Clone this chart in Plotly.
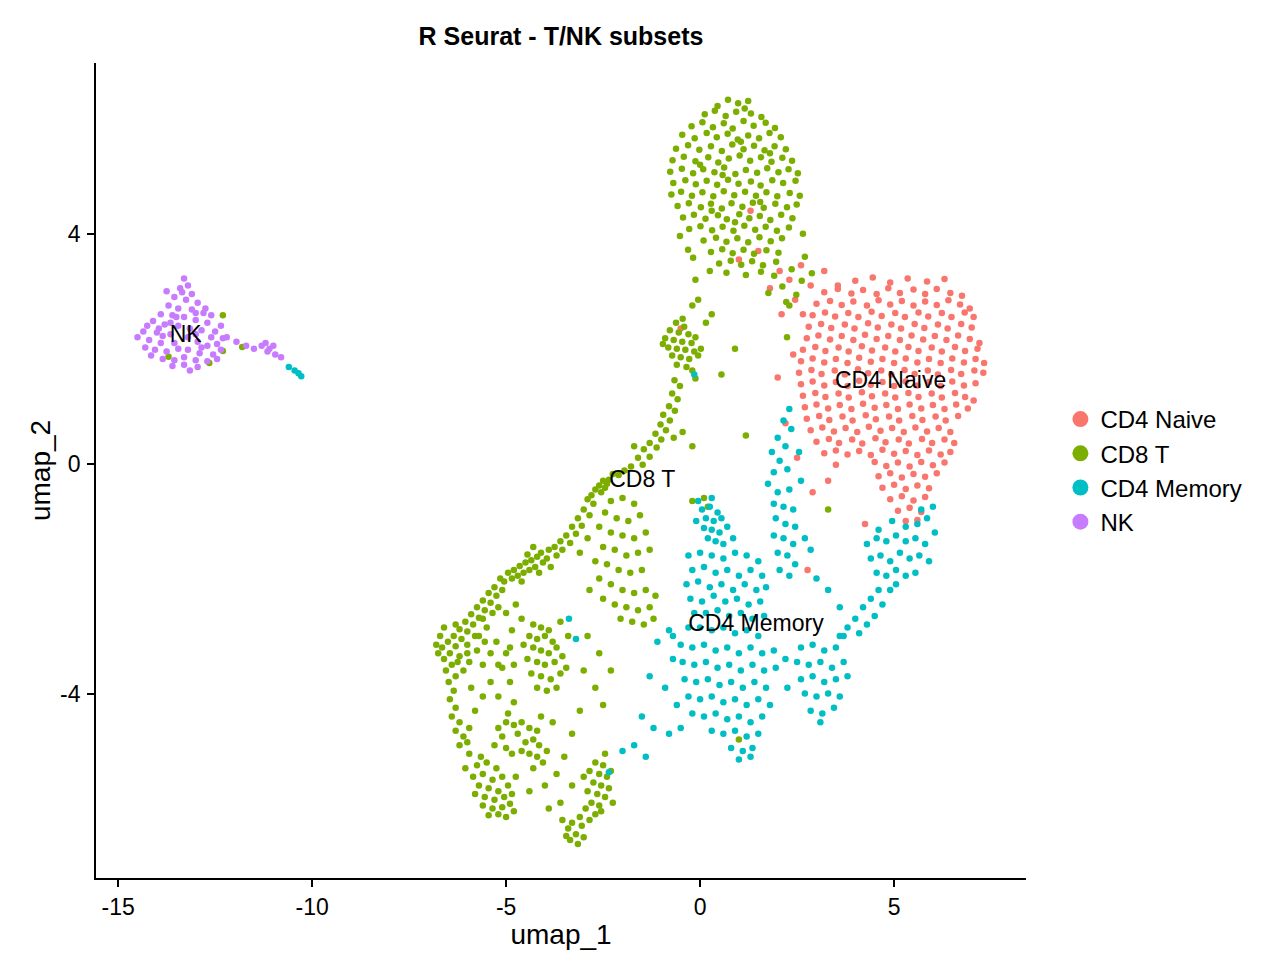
import plotly.graph_objects as go

# cluster coordinates (umap_1, umap_2)
nk_pts = [
    (-13.3, 3.22), (-13.2, 3.1), (-13.4, 3.05), (-13.1, 2.95), (-13.55, 2.9), (-13.25, 2.85),
    (-12.95, 2.8), (-13.7, 2.75), (-13.45, 2.7), (-13.1, 2.68), (-12.8, 2.62), (-13.9, 2.6),
    (-13.6, 2.58), (-13.3, 2.55), (-13.0, 2.5), (-12.7, 2.45), (-14.1, 2.48), (-13.8, 2.42),
    (-13.45, 2.4), (-13.15, 2.35), (-12.85, 2.32), (-12.5, 2.3), (-14.35, 2.3), (-14.0, 2.28),
    (-13.65, 2.25), (-12.6, 2.2), (-12.3, 2.18), (-14.5, 2.2), (-14.2, 2.15), (-13.9, 2.1),
    (-12.95, 2.12), (-12.7, 2.05), (-12.45, 2.08), (-12.2, 2.2), (-14.3, 2.02), (-14.05, 1.98),
    (-13.75, 1.95), (-13.45, 2.0), (-13.2, 1.98), (-12.9, 1.92), (-12.55, 1.9), (-14.15, 1.88),
    (-13.85, 1.82), (-13.55, 1.8), (-13.3, 1.85), (-13.0, 1.8), (-12.7, 1.78), (-12.45, 1.82),
    (-13.6, 1.7), (-13.3, 1.72), (-12.95, 1.68), (-13.5, 2.55), (-13.75, 3.0), (-12.6, 2.58),
    (-13.95, 2.35), (-12.35, 2.4), (-13.2, 2.2), (-13.0, 2.25), (-13.55, 2.1), (-12.75, 2.7),
    (-13.35, 2.98), (-13.0, 2.62), (-13.85, 2.22), (-12.85, 2.02), (-13.65, 2.45), (-14.25, 2.4),
    (-13.15, 1.62), (-12.35, 1.98),
    (-11.95, 2.12), (-11.7, 2.05), (-11.5, 2.0), (-11.3, 2.05), (-11.2, 2.1), (-11.1, 2.0),
    (-11.0, 2.05), (-11.15, 1.95), (-10.95, 1.9), (-10.8, 1.85),
]

cd8_pts = [
    # upper blob
    (0.72, 6.33), (0.98, 6.27), (1.24, 6.31), (0.45, 6.22),
    (0.12, 6.08), (0.38, 6.14), (0.66, 6.05), (0.93, 6.12), (1.31, 6.09), (1.58, 6.03), (1.15, 6.18),
    (-0.22, 5.87), (0.06, 5.94), (0.33, 5.85), (0.61, 5.92), (0.84, 5.83), (1.12, 5.96), (1.38, 5.88),
    (1.69, 5.93), (1.93, 5.84),
    (-0.46, 5.72), (-0.14, 5.66), (0.17, 5.75), (0.43, 5.68), (0.71, 5.74), (0.97, 5.64), (1.24, 5.71),
    (1.52, 5.66), (1.79, 5.75), (2.08, 5.68),
    (-0.62, 5.48), (-0.31, 5.54), (-0.02, 5.46), (0.28, 5.52), (0.56, 5.44), (0.83, 5.55), (1.12, 5.47),
    (1.39, 5.53), (1.66, 5.45), (1.92, 5.52), (2.21, 5.47),
    (-0.71, 5.28), (-0.42, 5.34), (-0.12, 5.26), (0.21, 5.33), (0.47, 5.24), (0.74, 5.31), (1.02, 5.36),
    (1.29, 5.27), (1.57, 5.33), (1.84, 5.25), (2.12, 5.32), (2.37, 5.27),
    (-0.77, 5.08), (-0.47, 5.13), (-0.18, 5.05), (0.08, 5.12), (0.37, 5.07), (0.62, 5.15), (0.91, 5.04),
    (1.18, 5.11), (1.47, 5.06), (1.73, 5.14), (2.02, 5.07), (2.28, 5.12), (2.52, 5.05),
    (-0.69, 4.88), (-0.38, 4.93), (-0.11, 4.86), (0.17, 4.92), (0.44, 4.85), (0.72, 4.94), (0.99, 4.87),
    (1.31, 4.91), (1.56, 4.84), (1.86, 4.93), (2.14, 4.88), (2.46, 4.92),
    (-0.74, 4.68), (-0.49, 4.73), (-0.21, 4.66), (0.06, 4.72), (0.34, 4.65), (0.61, 4.74), (0.88, 4.67),
    (1.16, 4.73), (1.44, 4.66), (1.71, 4.72), (1.99, 4.65), (2.31, 4.71), (2.57, 4.66),
    (-0.58, 4.48), (-0.29, 4.53), (0.02, 4.46), (0.28, 4.52), (0.56, 4.44), (0.81, 4.53), (1.09, 4.47),
    (1.36, 4.54), (1.64, 4.45), (1.94, 4.52), (2.24, 4.46), (2.49, 4.51),
    (-0.44, 4.28), (-0.16, 4.33), (0.14, 4.26), (0.46, 4.32), (0.69, 4.25), (1.01, 4.34), (1.27, 4.27),
    (1.54, 4.31), (1.81, 4.24), (2.09, 4.33), (2.38, 4.27),
    (-0.28, 4.08), (0.01, 4.13), (0.31, 4.06), (0.58, 4.12), (0.86, 4.05), (1.14, 4.14), (1.42, 4.07),
    (1.69, 4.12), (1.98, 4.05), (2.29, 4.11),
    (0.09, 3.88), (0.41, 3.93), (0.68, 3.86), (0.96, 3.92), (1.24, 3.85), (1.53, 3.94), (1.82, 3.87), (2.11, 3.92),
    (0.28, 3.68), (0.57, 3.73), (0.84, 3.66), (1.12, 3.72), (1.39, 3.65), (1.71, 3.71), (2.02, 3.67),
    (0.49, 3.48), (0.79, 3.53), (1.06, 3.46), (1.34, 3.52), (1.62, 3.45), (1.96, 3.51),
    (0.68, 3.32), (1.18, 3.28), (1.57, 3.34), (1.91, 3.27),
    (0.58, 5.02), (1.05, 5.6), (0.3, 4.4), (1.55, 4.55), (0.0, 5.2), (1.8, 5.4), (0.9, 4.2),
    (-0.31, 3.72), (-0.52, 3.96), (2.36, 3.38), (2.12, 3.08), (2.48, 2.94), (1.76, 2.97), (2.88, 3.31),
    (2.22, 2.81), (2.62, 3.18), (-0.18, 3.58), (0.25, 3.35), (-0.12, 3.2), (2.7, 3.6), (2.65, 4.0),
    (-0.05, 2.85), (2.3, 2.75),
    # small knot
    (-0.62, 2.45), (-0.41, 2.38), (-0.78, 2.32), (-0.55, 2.28), (-0.3, 2.25), (-0.9, 2.18), (-0.68, 2.15),
    (-0.46, 2.12), (-0.22, 2.1), (-0.82, 2.02), (-0.6, 2.0), (-0.38, 1.98), (-0.15, 1.95), (-0.72, 1.88),
    (-0.5, 1.85), (-0.28, 1.82), (-0.05, 1.88), (-0.6, 1.72), (-0.35, 1.68), (-0.12, 2.2), (-0.96, 2.08),
    (0.02, 2.0), (-0.2, 1.62), (-0.45, 2.52),
    (-0.2, 2.75), (0.3, 2.6), (0.15, 2.45), (0.55, 1.55), (0.9, 2.0), (-0.12, 1.48), (2.24, 2.2), (1.18, 0.49),
    # strand
    (-0.66, 1.45), (-0.52, 1.35), (-0.72, 1.22), (-0.58, 1.12), (-0.8, 1.0), (-0.65, 0.92), (-0.95, 0.85),
    (-0.78, 0.75), (-1.02, 0.68), (-0.88, 0.58), (-1.15, 0.52), (-1.0, 0.42), (-1.3, 0.36), (-1.12, 0.28),
    (-1.45, 0.25), (-1.3, 0.12), (-1.6, 0.1), (-1.48, -0.02), (-1.78, -0.05), (-1.95, -0.12), (-2.1, -0.2),
    (-2.25, -0.18), (-2.35, -0.28), (-2.5, -0.3), (-2.6, -0.38), (-2.45, -0.42), (-2.7, -0.45), (-2.55, -0.5),
    (-2.8, -0.55), (-2.4, -0.35), (-0.45, 0.55), (-0.2, 0.3), (-0.68, 0.45), (-1.7, 0.3),
    # diagonal band
    (-2.9, -0.62), (-2.75, -0.7), (-3.0, -0.8), (-2.85, -0.9), (-3.15, -0.95), (-3.05, -1.08), (-3.3, -1.1),
    (-3.2, -1.22), (-3.45, -1.25), (-3.35, -1.38), (-3.6, -1.35), (-3.55, -1.5), (-3.75, -1.45), (-3.7, -1.6),
    (-3.9, -1.5), (-3.95, -1.65), (-4.1, -1.55), (-4.05, -1.72), (-4.2, -1.62), (-4.25, -1.8), (-4.35, -1.68),
    (-4.4, -1.85), (-4.5, -1.72), (-4.55, -1.9), (-4.65, -1.78), (-4.7, -1.95), (-4.8, -1.85), (-4.45, -1.58),
    (-4.15, -1.9), (-4.3, -1.45), (-3.85, -1.8), (-4.6, -2.05), (-4.85, -2.0), (-4.95, -1.9), (-5.05, -2.05),
    (-5.15, -2.0), (-5.1, -2.2), (-5.3, -2.15), (-5.25, -2.3), (-5.45, -2.25), (-5.4, -2.42), (-5.6, -2.38),
    (-5.55, -2.55), (-5.75, -2.5), (-5.7, -2.68), (-5.9, -2.62), (-5.85, -2.8), (-6.05, -2.75), (-6.0, -2.92),
    (-6.2, -2.88), (-6.15, -3.05), (-6.35, -3.0), (-6.3, -3.18), (-6.5, -3.1), (-6.45, -3.3), (-6.65, -3.2),
    (-6.6, -3.4), (-6.75, -3.3), (-6.4, -3.5), (-6.55, -3.6), (-6.2, -3.35), (-6.0, -3.15), (-5.8, -3.0),
    (-6.3, -3.7), (-6.1, -3.6), (-5.95, -3.45),
    (-6.7, -3.0), (-6.6, -2.85), (-6.8, -3.15), (-6.3, -2.8), (-5.6, -2.7), (-5.35, -2.6), (-5.5, -2.85),
    (-5.7, -3.0), (-5.2, -2.5), (-6.0, -3.3), (-5.75, -3.25), (-5.55, -3.1), (-6.25, -3.45), (-6.48, -3.8),
    (-6.35, -3.95), (-6.45, -4.1), (-6.3, -4.25), (-6.4, -4.4), (-6.2, -4.5), (-6.3, -4.65), (-6.1, -4.75),
    (-6.2, -4.9), (-6.0, -4.85), (-5.95, -4.6), (-5.8, -4.3), (-5.6, -4.05), (-5.4, -3.8), (-5.9, -3.9),
    (-5.2, -3.5), (-5.0, -3.3),
    # ring knot
    (-5.2, -4.6), (-5.0, -4.5), (-4.8, -4.55), (-4.6, -4.5), (-4.4, -4.6), (-4.2, -4.65), (-5.1, -4.75),
    (-4.3, -4.8), (-4.15, -4.9), (-5.0, -4.95), (-4.85, -5.05), (-4.6, -5.0), (-4.4, -5.05), (-4.2, -5.1),
    (-4.05, -5.2), (-5.3, -4.9), (-4.7, -4.7), (-4.5, -4.85), (-4.95, -4.35), (-4.1, -4.4), (-3.95, -5.0),
    (-4.3, -5.3),
    # lower left blob
    (-5.75, -5.25), (-5.5, -5.2), (-5.25, -5.3), (-5.85, -5.45), (-5.6, -5.4), (-5.35, -5.5), (-5.1, -5.45),
    (-5.7, -5.6), (-5.45, -5.65), (-5.2, -5.7), (-4.95, -5.6), (-5.8, -5.75), (-5.55, -5.8), (-5.3, -5.85),
    (-5.05, -5.8), (-4.85, -5.75), (-5.6, -5.95), (-5.35, -6.0), (-5.1, -5.98), (-4.9, -5.92), (-5.45, -6.12),
    (-5.2, -6.1), (-4.8, -6.05), (-5.65, -5.1), (-5.95, -5.05), (-6.05, -5.3), (-4.75, -5.45), (-5.0, -6.15),
    # lower right blob
    (-2.7, -5.2), (-2.5, -5.25), (-2.85, -5.35), (-2.6, -5.4), (-2.4, -5.45), (-2.75, -5.55), (-2.55, -5.6),
    (-2.35, -5.65), (-2.9, -5.7), (-2.65, -5.75), (-2.45, -5.8), (-2.8, -5.9), (-2.6, -5.95), (-2.95, -6.0),
    (-2.7, -6.1), (-3.1, -6.15), (-2.85, -6.2), (-3.3, -6.25), (-3.05, -6.3), (-3.4, -6.35), (-3.2, -6.45),
    (-3.0, -6.5), (-3.35, -6.55), (-3.15, -6.62), (-3.45, -6.48), (-2.55, -6.05), (-2.3, -5.35),
    (-2.45, -5.05), (-3.0, -5.45), (-2.25, -5.9), (-3.55, -6.2), (-3.6, -5.9), (-3.3, -5.6),
    (-4.0, -5.6), (-3.7, -5.4), (-3.9, -6.0), (-4.4, -5.7), (-3.5, -5.1),
    # inner knot
    (-4.3, -2.8), (-4.1, -2.85), (-3.9, -2.9), (-4.4, -3.0), (-4.2, -3.05), (-4.0, -3.0), (-3.8, -3.1),
    (-4.3, -3.2), (-4.1, -3.25), (-3.9, -3.3), (-3.7, -3.2), (-4.45, -3.4), (-4.2, -3.45), (-4.0, -3.5),
    (-3.75, -3.45), (-3.55, -3.35), (-4.35, -3.65), (-4.1, -3.7), (-3.85, -3.75), (-3.6, -3.65),
    (-3.45, -3.55), (-4.2, -3.9), (-3.95, -3.95), (-3.7, -3.9), (-4.55, -3.15), (-3.4, -3.0), (-4.6, -2.7),
    (-3.6, -2.75),
    (-5.0, -2.6), (-4.85, -2.9), (-5.25, -3.1), (-4.9, -3.2), (-5.1, -3.55), (-4.8, -3.5), (-5.4, -3.3),
    (-4.75, -2.45), (-5.6, -3.5), (-4.9, -3.8), (-5.2, -4.05), (-4.8, -4.15),
    # loose right part
    (-2.3, -0.65), (-2.0, -0.6), (-1.7, -0.7), (-2.45, -0.85), (-2.15, -0.95), (-1.85, -1.0), (-1.55, -0.9),
    (-2.6, -1.1), (-2.3, -1.2), (-2.0, -1.25), (-1.7, -1.3), (-1.4, -1.2), (-2.5, -1.45), (-2.2, -1.5),
    (-1.9, -1.6), (-1.6, -1.55), (-1.3, -1.5), (-2.7, -1.7), (-2.4, -1.75), (-2.1, -1.85), (-1.8, -1.9),
    (-1.5, -1.85), (-2.6, -2.0), (-2.3, -2.1), (-2.0, -2.2), (-1.7, -2.25), (-1.4, -2.2), (-1.15, -2.3),
    (-2.5, -2.35), (-2.2, -2.45), (-1.9, -2.5), (-1.6, -2.55), (-1.3, -2.5), (-2.05, -2.7), (-1.75, -2.75),
    (-1.45, -2.8), (-1.2, -2.7), (-2.9, -1.3), (-3.1, -1.55), (-2.85, -2.2),
    (-2.9, -3.0), (-2.6, -3.3), (-3.0, -3.6), (-2.7, -3.9), (-2.5, -4.2), (-3.1, -4.3), (-2.3, -3.6),
    (-3.3, -4.7), (-3.8, -4.5),
    # strays
    (-12.3, 2.58), (-12.3, 1.96), (-12.65, 1.75), (-13.7, 1.86), (-11.8, 2.03),
    (0.1, -0.6), (0.2, -0.75), (-0.2, -0.65), (1.0, -4.8), (3.3, -0.8),
]

naive_pts = [
    (4.0, 3.18), (4.45, 3.24), (4.9, 3.15), (5.35, 3.22), (5.85, 3.17), (6.3, 3.21), (3.55, 3.1),
    (3.2, 2.98), (3.55, 3.04), (3.9, 2.96), (4.2, 3.02), (4.55, 2.95), (4.85, 3.05), (5.15, 2.97),
    (5.5, 3.03), (5.8, 2.95), (6.1, 3.04), (6.45, 2.97), (6.75, 2.92),
    (3.0, 2.78), (3.35, 2.83), (3.65, 2.76), (3.95, 2.82), (4.3, 2.75), (4.6, 2.84), (4.9, 2.77),
    (5.2, 2.83), (5.5, 2.75), (5.8, 2.82), (6.1, 2.76), (6.4, 2.84), (6.7, 2.77), (6.95, 2.7),
    (2.9, 2.58), (3.22, 2.63), (3.48, 2.56), (3.82, 2.62), (4.08, 2.55), (4.42, 2.64), (4.68, 2.57),
    (5.03, 2.62), (5.28, 2.55), (5.63, 2.63), (5.88, 2.56), (6.23, 2.62), (6.48, 2.55), (6.82, 2.63),
    (7.05, 2.55),
    (2.8, 2.38), (3.12, 2.43), (3.38, 2.36), (3.73, 2.42), (3.98, 2.35), (4.33, 2.44), (4.58, 2.37),
    (4.93, 2.42), (5.18, 2.35), (5.53, 2.43), (5.78, 2.36), (6.13, 2.42), (6.38, 2.35), (6.73, 2.43),
    (7.0, 2.37),
    (2.75, 2.18), (3.05, 2.23), (3.35, 2.16), (3.65, 2.22), (3.95, 2.15), (4.25, 2.24), (4.55, 2.17),
    (4.85, 2.22), (5.15, 2.15), (5.45, 2.23), (5.75, 2.16), (6.05, 2.22), (6.35, 2.15), (6.65, 2.23),
    (6.95, 2.17), (7.2, 2.1),
    (2.65, 1.98), (2.97, 2.03), (3.23, 1.96), (3.57, 2.02), (3.83, 1.95), (4.17, 2.04), (4.43, 1.97),
    (4.77, 2.02), (5.03, 1.95), (5.37, 2.03), (5.63, 1.96), (5.97, 2.02), (6.23, 1.95), (6.57, 2.03),
    (6.83, 1.96), (7.15, 2.0),
    (2.6, 1.78), (2.9, 1.83), (3.2, 1.76), (3.5, 1.82), (3.8, 1.75), (4.1, 1.84), (4.4, 1.77),
    (4.7, 1.82), (5.0, 1.75), (5.3, 1.83), (5.6, 1.76), (5.9, 1.82), (6.2, 1.75), (6.5, 1.83),
    (6.8, 1.76), (7.1, 1.82), (7.32, 1.75),
    (2.55, 1.58), (2.87, 1.63), (3.13, 1.56), (3.47, 1.62), (3.73, 1.55), (4.07, 1.64), (4.33, 1.57),
    (4.67, 1.62), (4.93, 1.55), (5.27, 1.63), (5.53, 1.56), (5.87, 1.62), (6.13, 1.55), (6.47, 1.63),
    (6.73, 1.56), (7.07, 1.62), (7.3, 1.58),
    (2.6, 1.38), (2.9, 1.43), (3.2, 1.36), (3.5, 1.42), (3.8, 1.35), (4.1, 1.44), (4.4, 1.37),
    (4.7, 1.42), (5.0, 1.35), (5.3, 1.43), (5.6, 1.36), (5.9, 1.42), (6.2, 1.35), (6.5, 1.43),
    (6.8, 1.36), (7.1, 1.4),
    (2.65, 1.18), (2.97, 1.23), (3.23, 1.16), (3.57, 1.22), (3.83, 1.15), (4.17, 1.24), (4.43, 1.17),
    (4.77, 1.22), (5.03, 1.15), (5.37, 1.23), (5.63, 1.16), (5.97, 1.22), (6.23, 1.15), (6.57, 1.23),
    (6.83, 1.16), (7.05, 1.1),
    (2.7, 0.98), (3.0, 1.03), (3.3, 0.96), (3.6, 1.02), (3.9, 0.95), (4.2, 1.04), (4.5, 0.97),
    (4.8, 1.02), (5.1, 0.95), (5.4, 1.03), (5.7, 0.96), (6.0, 1.02), (6.3, 0.95), (6.6, 1.03), (6.9, 0.96),
    (2.75, 0.78), (3.07, 0.83), (3.33, 0.76), (3.67, 0.82), (3.93, 0.75), (4.27, 0.84), (4.53, 0.77),
    (4.87, 0.82), (5.13, 0.75), (5.47, 0.83), (5.73, 0.76), (6.07, 0.82), (6.33, 0.75), (6.65, 0.83),
    (2.85, 0.58), (3.15, 0.63), (3.45, 0.56), (3.75, 0.62), (4.05, 0.55), (4.35, 0.64), (4.65, 0.57),
    (4.95, 0.62), (5.25, 0.55), (5.55, 0.63), (5.85, 0.56), (6.15, 0.62), (6.45, 0.55),
    (3.0, 0.38), (3.32, 0.43), (3.58, 0.36), (3.92, 0.42), (4.18, 0.35), (4.52, 0.44), (4.78, 0.37),
    (5.12, 0.42), (5.38, 0.35), (5.72, 0.43), (5.98, 0.36), (6.3, 0.42), (6.55, 0.36),
    (3.2, 0.18), (3.5, 0.23), (3.8, 0.16), (4.1, 0.22), (4.4, 0.15), (4.7, 0.24), (5.0, 0.17),
    (5.3, 0.22), (5.6, 0.15), (5.9, 0.23), (6.2, 0.16), (6.45, 0.2),
    (3.5, -0.02), (4.5, 0.03), (4.8, -0.04), (5.1, 0.02), (5.4, -0.05), (5.7, 0.03), (6.0, -0.03), (6.3, 0.02),
    (4.6, -0.22), (4.9, -0.17), (5.2, -0.24), (5.5, -0.18), (5.8, -0.23), (6.1, -0.17),
    (4.7, -0.42), (5.0, -0.37), (5.3, -0.44), (5.6, -0.38), (5.9, -0.43),
    (4.9, -0.62), (5.2, -0.57), (5.5, -0.64), (5.8, -0.58),
    (5.1, -0.82), (5.4, -0.77), (5.7, -0.84), (5.3, -1.0), (5.6, -0.98),
    # loose cells between clusters
    (1.5, 3.7), (2.05, 3.35), (2.3, 3.2), (2.6, 3.45), (2.85, 3.1), (1.8, 3.05), (2.45, 2.85),
    (3.2, 3.35), (2.1, 2.6), (2.65, 2.6), (1.0, 3.55), (1.3, 4.4), (2.0, 1.5), (2.4, 1.9),
    (2.77, -1.85), (4.25, -1.05), (2.9, -0.5), (3.3, -0.3), (2.5, 0.1), (2.2, 0.7), (-0.5, 2.35),
]

memory_pts = [
    (0.05, -0.8), (0.25, -0.75), (0.45, -0.85), (0.15, -0.95), (0.35, -1.0), (0.55, -0.95), (0.1, -1.12),
    (0.3, -1.15), (0.5, -1.2), (0.7, -1.1), (0.2, -1.3), (0.4, -1.35), (0.6, -1.4), (-0.1, -1.0),
    (0.85, -1.3), (-0.05, -0.65), (0.3, -0.6),
    (-0.3, -1.6), (0.0, -1.55), (0.3, -1.6), (0.6, -1.65), (0.9, -1.55), (1.2, -1.6), (1.5, -1.7),
    (-0.2, -1.85), (0.1, -1.8), (0.4, -1.9), (0.7, -1.85), (1.0, -1.95), (1.3, -1.85), (1.6, -1.95),
    (-0.35, -2.1), (-0.05, -2.05), (0.25, -2.15), (0.55, -2.1), (0.85, -2.2), (1.15, -2.1), (1.45, -2.2),
    (1.7, -2.15), (-0.25, -2.35), (0.05, -2.4), (0.35, -2.3), (0.65, -2.4), (0.95, -2.35), (1.25, -2.45),
    (1.55, -2.4), (-0.15, -2.6), (0.15, -2.6), (0.45, -2.55), (0.75, -2.65), (1.05, -2.6), (1.35, -2.7),
    (1.65, -2.65), (-0.3, -2.85), (0.0, -2.85), (0.3, -2.9), (0.6, -2.85), (0.9, -2.95), (1.2, -2.9),
    (1.5, -3.0),
    (2.3, 0.95), (2.15, 0.75), (2.35, 0.6), (2.0, 0.45), (2.2, 0.3), (1.85, 0.2), (2.05, 0.05),
    (1.9, -0.15), (2.25, -0.1), (1.75, -0.35), (2.0, -0.5), (2.3, -0.45), (1.9, -0.7), (2.15, -0.75),
    (2.4, -0.8), (1.95, -0.95), (2.2, -1.05), (2.45, -1.1), (1.9, -1.25), (2.15, -1.3), (2.4, -1.4),
    (2.0, -1.55), (2.25, -1.6), (2.45, -1.75), (2.05, -1.85), (2.3, -1.95), (2.6, -0.3), (2.55, 0.2),
    (2.7, -1.3), (2.85, -1.5),
    (-0.5, -3.15), (-0.2, -3.2), (0.1, -3.15), (0.4, -3.25), (0.7, -3.2), (1.0, -3.3), (1.3, -3.2),
    (1.6, -3.3), (1.9, -3.25), (-0.45, -3.45), (-0.15, -3.5), (0.15, -3.45), (0.45, -3.55), (0.75, -3.5),
    (1.05, -3.6), (1.35, -3.5), (1.65, -3.6), (1.95, -3.55), (-0.4, -3.75), (-0.1, -3.8), (0.2, -3.75),
    (0.5, -3.85), (0.8, -3.8), (1.1, -3.9), (1.4, -3.8), (1.7, -3.9), (-0.3, -4.05), (0.0, -4.1),
    (0.3, -4.05), (0.6, -4.15), (0.9, -4.1), (1.2, -4.2), (1.5, -4.1), (1.8, -4.2), (-0.2, -4.35),
    (0.1, -4.4), (0.4, -4.35), (0.7, -4.45), (1.0, -4.4), (1.3, -4.5), (1.6, -4.4), (0.3, -4.65),
    (0.6, -4.7), (0.9, -4.65), (1.2, -4.75), (1.5, -4.7), (0.8, -4.95), (1.1, -5.0), (1.35, -4.95),
    (1.0, -5.15), (1.3, -5.1),
    (2.6, -3.2), (2.9, -3.15), (3.2, -3.25), (3.5, -3.2), (2.5, -3.45), (2.8, -3.5), (3.1, -3.45),
    (3.4, -3.55), (3.7, -3.45), (2.6, -3.75), (2.9, -3.7), (3.2, -3.8), (3.5, -3.75), (3.8, -3.7),
    (2.7, -4.0), (3.0, -4.05), (3.3, -4.0), (3.6, -4.05), (2.85, -4.3), (3.15, -4.35), (3.45, -4.25),
    (3.1, -4.5), (2.25, -3.9), (2.2, -3.4), (3.7, -3.0),
    (4.3, -1.4), (4.55, -1.3), (4.8, -1.35), (5.05, -1.25), (5.3, -1.35), (5.55, -1.3), (5.8, -1.4),
    (4.4, -1.65), (4.65, -1.6), (4.9, -1.7), (5.15, -1.55), (5.4, -1.65), (5.65, -1.6), (5.9, -1.7),
    (4.55, -1.9), (4.8, -1.95), (5.05, -1.85), (5.3, -1.95), (5.55, -1.9), (5.05, -2.1), (5.3, -1.1),
    (5.6, -1.05), (5.85, -0.95), (6.0, -0.75), (5.7, -0.8), (4.95, -1.0), (6.05, -1.2), (4.6, -1.15),
    (4.6, -2.2), (4.4, -2.35), (4.7, -2.45), (4.2, -2.5), (4.5, -2.65), (4.0, -2.7), (4.3, -2.8),
    (3.8, -2.85), (4.1, -2.95), (3.6, -3.0), (4.9, -2.2), (3.3, -2.2), (3.0, -2.0), (3.6, -2.5),
    (-0.8, -2.9), (-1.1, -3.1), (-0.7, -3.4), (-1.3, -3.7), (-0.9, -3.9), (-0.6, -4.2), (-1.5, -4.4),
    (-1.2, -4.6), (-0.8, -4.7), (-1.7, -4.9), (-2.0, -5.0), (-1.4, -5.1), (-0.5, -4.6), (-0.7, -3.0),
    (-3.38, -2.7), (-3.2, -3.05), (-2.35, -5.37),
    (-10.6, 1.68), (-10.45, 1.62), (-10.28, 1.52), (-10.35, 1.57), (-0.15, 1.55),
]

cluster_names = ["CD4 Naive", "CD8 T", "CD4 Memory", "NK"]
cluster_colors = ["#F8766D", "#7CAE00", "#00BFC4", "#C77CFF"]
cluster_pts = [naive_pts, cd8_pts, memory_pts, nk_pts]

label_x = [4.91, -1.49, 1.44, -13.26]
label_y = [1.42, -0.30, -2.81, 2.21]

x_ticks = [-15, -10, -5, 0, 5]
y_ticks = [-4, 0, 4]

FONT = "Liberation Sans, Arial, Helvetica, sans-serif"

fig = go.Figure()

for name, col, pts in zip(cluster_names, cluster_colors, cluster_pts):
    fig.add_trace(go.Scatter(
        x=[p[0] for p in pts], y=[p[1] for p in pts],
        mode="markers", name=name, showlegend=False,
        marker=dict(color=col, size=6.5, line=dict(width=0)),
    ))

# bigger dots for the legend only
for name, col in zip(cluster_names, cluster_colors):
    fig.add_trace(go.Scatter(
        x=[None], y=[None], mode="markers", name=name,
        marker=dict(color=col, size=17),
    ))

fig.add_trace(go.Scatter(
    x=label_x, y=label_y, mode="text", text=cluster_names,
    textfont=dict(family=FONT, size=23, color="black"),
    showlegend=False, hoverinfo="skip",
))

# the page adds ~8px of body margin, so the figure is laid out 8px up/left
fig.update_layout(
    width=1275, height=975,
    paper_bgcolor="white", plot_bgcolor="white",
    margin=dict(l=88, r=257, t=55, b=105),
    font=dict(family=FONT, color="black"),
    title=dict(text="<b>R Seurat - T/NK subsets</b>", x=553 / 1275, xanchor="center",
               y=1 - 28 / 975, yanchor="middle", font=dict(size=25)),
    legend=dict(x=1.037, y=0.5, xanchor="left", yanchor="middle",
                font=dict(size=24), itemsizing="trace", tracegroupgap=0),
)

fig.update_xaxes(
    range=[-15.57, 8.40], tickvals=x_ticks, ticktext=[str(v) for v in x_ticks],
    showgrid=False, zeroline=False, showline=True, linecolor="black", linewidth=1.8,
    ticks="outside", ticklen=7, tickwidth=1.8, tickcolor="black", automargin=False,
    tickfont=dict(size=23, color="black"),
    title=dict(text="umap_1", font=dict(size=28), standoff=6),
)
fig.update_yaxes(
    range=[-7.21, 6.97], tickvals=y_ticks, ticktext=[str(v) for v in y_ticks],
    showgrid=False, zeroline=False, showline=True, linecolor="black", linewidth=1.8,
    ticks="outside", ticklen=7, tickwidth=1.8, tickcolor="black", automargin=False,
    ticklabelstandoff=2,
    tickfont=dict(size=23, color="black"),
    title=dict(text="umap_2", font=dict(size=28), standoff=1),
)

fig.write_html("out.html")
